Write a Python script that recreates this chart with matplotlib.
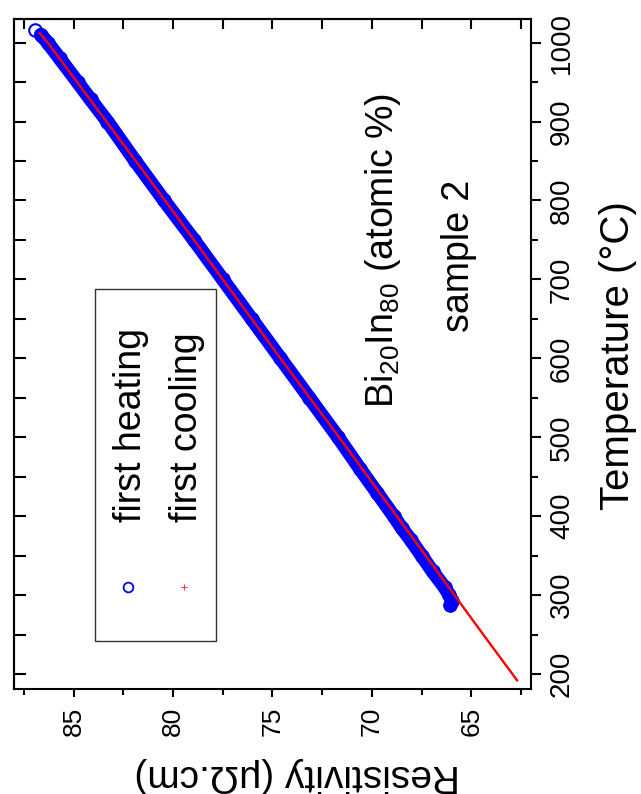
import matplotlib
matplotlib.use("Agg")
import matplotlib.pyplot as plt
from matplotlib.patches import Rectangle
from matplotlib.ticker import MultipleLocator

# dados (temperatura em C, resistividade em uOhm.cm)
temp_aquec = [287, 292, 300, 310, 330, 350, 370, 385, 400, 430, 460, 500, 550,
              600, 650, 700, 750, 800, 850, 900, 928, 950, 980, 1000, 1010, 1016]
res_aquec = [66.05, 65.95, 66.1, 66.35, 66.95, 67.5, 68.05, 68.5, 68.9, 69.75,
             70.6, 71.7, 73.15, 74.6, 76.05, 77.5, 78.95, 80.45, 81.9, 83.3,
             84.15, 84.8, 85.7, 86.3, 86.65, 86.95]

temp_resfr = [192, 250, 300, 400, 500, 600, 700, 800, 900, 1000, 1012]
res_resfr = [62.7, 64.4, 65.85, 68.75, 71.65, 74.6, 77.5, 80.4, 83.35, 86.3, 86.7]

res_ticks = [65, 70, 75, 80, 85]
temp_ticks = [200, 300, 400, 500, 600, 700, 800, 900, 1000]

legenda = ["first heating", "first cooling"]
rotulo_x = "Resistivity (\u03bc\u03a9.cm)"
rotulo_y = "Temperature (\u00b0C)"
nota_liga = "Bi$_{20}$In$_{80}$ (atomic %)"
nota_amostra = "sample 2"

plt.rcParams['font.family'] = ['Liberation Sans', 'DejaVu Sans']
plt.rcParams['mathtext.fontset'] = 'custom'
plt.rcParams['mathtext.rm'] = 'Liberation Sans'
plt.rcParams['mathtext.it'] = 'Liberation Sans:italic'

azul = '#0000ff'
vermelho = '#ff0000'

fig = plt.figure(figsize=(6.41, 7.94), dpi=100)
ax = fig.add_axes([0.0218, 0.1322, 0.8066, 0.8439])

# figura original esta girada 90 graus: resistividade no eixo de baixo, temperatura a direita
ax.plot(res_aquec[:-1], temp_aquec[:-1], '-', color=azul, lw=10, solid_capstyle='round', zorder=2)
ax.plot(res_aquec, temp_aquec, 'o', mfc='none', mec=azul, ms=9, mew=1.5, zorder=3)
ax.plot(res_resfr, temp_resfr, '-', color=vermelho, lw=1.7, zorder=4)

ax.set_xlim(88, 62)
ax.set_ylim(181, 1030)

ax.xaxis.set_ticks(res_ticks)
ax.xaxis.set_minor_locator(MultipleLocator(2.5))
ax.yaxis.set_ticks(temp_ticks)
ax.yaxis.set_minor_locator(MultipleLocator(50))
ax.yaxis.tick_right()
ax.yaxis.set_label_position('right')

for s in ax.spines.values():
    s.set_linewidth(1.5)

ax.tick_params(axis='x', which='major', direction='out', length=6, width=1.5, pad=7,
               labelsize=19, labelrotation=90, top=False)
ax.tick_params(axis='x', which='minor', direction='out', length=4, width=1.5, top=False)
ax.tick_params(axis='y', which='major', direction='out', length=7, width=1.5, pad=6,
               labelsize=20, labelrotation=90, left=False)
ax.tick_params(axis='y', which='minor', direction='out', length=5, width=1.5, left=False)
for t in ax.get_yticklabels():
    t.set_va('center')

# ticks para dentro no topo e na esquerda
topo = ax.secondary_xaxis('top')
topo.set_xticks(res_ticks)
topo.xaxis.set_minor_locator(MultipleLocator(2.5))
topo.tick_params(which='both', direction='in', length=7.5, width=1.5, labeltop=False)
esq = ax.secondary_yaxis('left')
esq.set_yticks(temp_ticks)
esq.yaxis.set_minor_locator(MultipleLocator(50))
esq.tick_params(which='both', direction='in', length=8.5, width=1.5, labelleft=False)
topo.spines['top'].set_linewidth(1.5)
esq.spines['left'].set_linewidth(1.5)

ax.set_xlabel(rotulo_x, fontsize=28, rotation=180, ha='center', va='center')
ax.xaxis.set_label_coords(0.547, -0.128)
ax.set_ylabel(rotulo_y, fontsize=29, rotation=90, ha='center', va='center')
ax.yaxis.set_label_coords(1.169, 0.497)

# legenda desenhada a mao (texto girado)
ax.add_patch(Rectangle((0.1567, 0.0716), 0.234, 0.5254, transform=ax.transAxes,
                       fill=False, ec='#333333', lw=1.0, zorder=5))
ax.plot([0.2205], [0.1522], 'o', mfc='none', mec=azul, ms=7, mew=1.3,
        transform=ax.transAxes, zorder=6)
ax.plot([0.3288], [0.1522], '+', color='#e04040', ms=4, mew=0.8,
        transform=ax.transAxes, zorder=6)
ax.text(0.2273, 0.2493, legenda[0], transform=ax.transAxes, rotation=90,
        ha='center', va='bottom', fontsize=27)
ax.text(0.3337, 0.2493, legenda[1], transform=ax.transAxes, rotation=90,
        ha='center', va='bottom', fontsize=27)

ax.text(0.7137, 0.655, nota_liga, transform=ax.transAxes, rotation=90,
        ha='center', va='center', fontsize=27)
ax.text(0.8607, 0.646, nota_amostra, transform=ax.transAxes, rotation=90,
        ha='center', va='center', fontsize=27)

fig.savefig("out.png", dpi=100)
